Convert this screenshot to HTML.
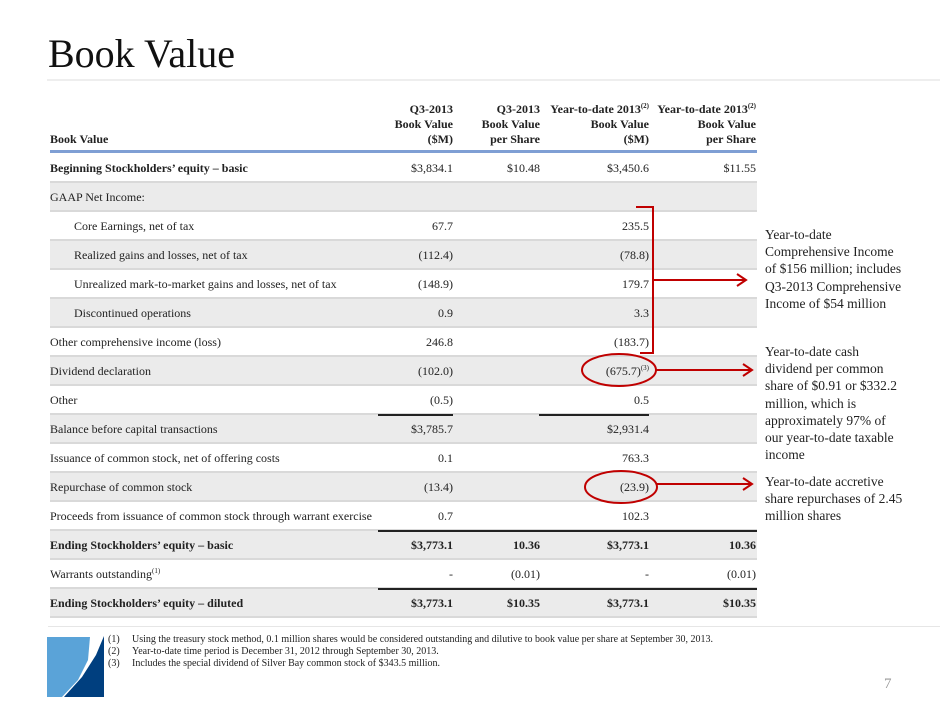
<!DOCTYPE html>
<html><head><meta charset="utf-8"><style>
body{margin:0;width:940px;height:705px;background:#fff;position:relative;overflow:hidden;font-family:"Liberation Serif",serif;color:#222}
.a{position:absolute;white-space:nowrap}
.r{position:absolute;left:50px;width:707px;height:27px;border-bottom:2px solid #d9d9d9}
.g{background:#ebebeb}
.t{position:absolute;font-size:12px;line-height:14px;white-space:nowrap}
.b{font-weight:bold}
.h{position:absolute;font-size:12px;line-height:15px;font-weight:bold;text-align:right;white-space:nowrap}
.n{position:absolute;font-size:13.5px;line-height:17.2px;left:765px;color:#222}
.f{position:absolute;font-size:10px;line-height:12px;white-space:nowrap}
sup{font-size:7px;line-height:0;vertical-align:0;position:relative;top:-5px}
</style></head><body>
<div class="a" style="left:48px;top:30px;font-size:40px;line-height:48px;color:#111">Book Value</div>
<div class="a" style="left:47px;top:79px;width:893px;height:2px;background:#eee"></div>

<div class="h" style="left:50px;top:132px;text-align:left">Book Value</div>
<div class="h" style="right:487px;top:102px">Q3-2013<br>Book Value<br>($M)</div>
<div class="h" style="right:400px;top:102px">Q3-2013<br>Book Value<br>per Share</div>
<div class="h" style="right:291px;top:102px">Year-to-date 2013<sup>(2)</sup><br>Book Value<br>($M)</div>
<div class="h" style="right:184px;top:102px">Year-to-date 2013<sup>(2)</sup><br>Book Value<br>per Share</div>
<div class="a" style="left:50px;top:150px;width:707px;height:3px;background:#7f9fd4"></div>

<div id="rows"></div>
<script>
var rows=[
["Beginning Stockholders’ equity – basic","$3,834.1","$10.48","$3,450.6","$11.55",0,2,0],
["GAAP Net Income:","","","","",1,0,0],
["Core Earnings, net of tax","67.7","","235.5","",0,0,1],
["Realized gains and losses, net of tax","(112.4)","","(78.8)","",1,0,1],
["Unrealized mark-to-market gains and losses, net of tax","(148.9)","","179.7","",0,0,1],
["Discontinued operations","0.9","","3.3","",1,0,1],
["Other comprehensive income (loss)","246.8","","(183.7)","",0,0,0],
["Dividend declaration","(102.0)","","(675.7)<sup>(3)</sup>","",1,0,0],
["Other","(0.5)","","0.5","",0,0,0],
["Balance before capital transactions","$3,785.7","","$2,931.4","",1,0,0],
["Issuance of common stock, net of offering costs","0.1","","763.3","",0,0,0],
["Repurchase of common stock","(13.4)","","(23.9)","",1,0,0],
["Proceeds from issuance of common stock through warrant exercise","0.7","","102.3","",0,0,0],
["Ending Stockholders’ equity – basic","$3,773.1","10.36","$3,773.1","10.36",1,1,0],
["Warrants outstanding<sup>(1)</sup>","-","(0.01)","-","(0.01)",0,0,0],
["Ending Stockholders’ equity – diluted","$3,773.1","$10.35","$3,773.1","$10.35",1,1,0]];
var h="";
rows.forEach(function(r,i){
 var top=154+29*i;
 h+='<div class="r'+(r[5]?' g':'')+'" style="top:'+top+'px"></div>';
 var lc=r[6]?' b':'';var c=r[6]==1?' b':'';var ty=top+7;
 h+='<div class="t'+lc+'" style="left:'+(r[7]?74:50)+'px;top:'+ty+'px">'+r[0]+'</div>';
 var rs=[487,400,291,184];
 for(var k=0;k<4;k++) if(r[k+1]) h+='<div class="t'+c+'" style="right:'+rs[k]+'px;top:'+ty+'px">'+r[k+1]+'</div>';
});
document.getElementById('rows').innerHTML=h;
</script>
<div class="a" style="left:378px;top:414px;width:75px;height:2px;background:#222"></div>
<div class="a" style="left:539px;top:414px;width:110px;height:2px;background:#222"></div>
<div class="a" style="left:378px;top:530px;width:379px;height:2px;background:#222"></div>
<div class="a" style="left:378px;top:588px;width:379px;height:2px;background:#222"></div>

<svg class="a" style="left:0;top:0" width="940" height="705">
<g fill="none" stroke="#c00000" stroke-width="2">
<polyline points="636,207 653,207 653,353 640,353"/>
<line x1="653" y1="280" x2="745" y2="280"/>
<polyline points="737,274 746,280 737,286"/>
<ellipse cx="619" cy="370" rx="37" ry="16"/>
<line x1="656" y1="370" x2="751" y2="370"/>
<polyline points="743,364 752,370 743,376"/>
<ellipse cx="621" cy="487" rx="36" ry="16"/>
<line x1="657" y1="484" x2="751" y2="484"/>
<polyline points="743,478 752,484 743,490"/>
</g>
<polygon points="47,637 90,637 88,660 78,680 62,697 47,697" fill="#5aa3d8"/>
<polygon points="104,636 104,697 64,697 82,677 96,655" fill="#003f7f"/>
</svg>

<div class="n" style="top:226px">Year-to-date<br>Comprehensive Income<br>of $156 million; includes<br>Q3-2013 Comprehensive<br>Income of $54 million</div>
<div class="n" style="top:343px">Year-to-date cash<br>dividend per common<br>share of $0.91 or $332.2<br>million, which is<br>approximately 97% of<br>our year-to-date taxable<br>income</div>
<div class="n" style="top:473px">Year-to-date accretive<br>share repurchases of 2.45<br>million shares</div>

<div class="a" style="left:48px;top:626px;width:892px;height:1px;background:#e6e6e6"></div>
<div class="f" style="left:108px;top:634px">(1)<br>(2)<br>(3)</div>
<div class="f" style="left:132px;top:634px">Using the treasury stock method, 0.1 million shares would be considered outstanding and dilutive to book value per share at September 30, 2013.<br>Year-to-date time period is December 31, 2012 through September 30, 2013.<br>Includes the special dividend of Silver Bay common stock of $343.5 million.</div>
<div class="a" style="left:884px;top:676px;font-size:15px;color:#999">7</div>
</body></html>
